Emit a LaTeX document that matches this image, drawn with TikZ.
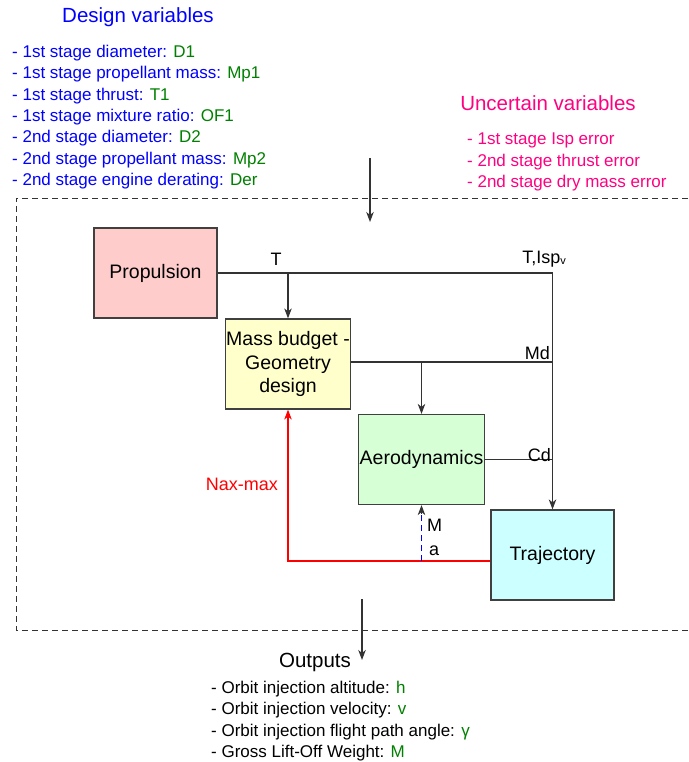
\documentclass[tikz,border=0pt]{standalone}
\usepackage{fontspec}
\setmainfont{Liberation Sans}
\usepackage{tikz}
\usetikzlibrary{arrows.meta}

\definecolor{dvblue}{RGB}{0,0,255}
\definecolor{dvgreen}{RGB}{0,128,0}
\definecolor{uvpink}{RGB}{255,0,128}
\definecolor{propfill}{RGB}{255,204,204}
\definecolor{massfill}{RGB}{255,255,204}
\definecolor{aerofill}{RGB}{214,255,214}
\definecolor{trajfill}{RGB}{204,255,255}

\begin{document}
\begin{tikzpicture}[x=1pt,y=-1pt,
    block/.style={draw=black!75,line width=1.2pt,minimum width=123pt,minimum height=90pt,
      align=center,inner sep=1pt,font=\fontsize{19.5}{23.5}\selectfont},
    wire/.style={black!80,line width=1.1pt},
    flow/.style={wire,-{Stealth[length=10pt,width=7.5pt,inset=3pt]}},
    frame/.style={black!80,line width=1pt,dash pattern=on 6pt off 4pt},
    lbl/.style={inner sep=0pt,font=\fontsize{18}{20}\selectfont},
    item/.style={inner sep=0pt,anchor=base west,font=\fontsize{17}{20}\selectfont},
    head/.style={inner sep=0pt,anchor=base,font=\fontsize{20.5}{24}\selectfont}]
  \useasboundingbox (0,0) rectangle (688,762);

  % design and uncertain variables
  \node[head,text=dvblue] (dvtitle) at (138,23) {Design variables};
  \foreach \name/\sym [count=\i] in {1st stage diameter/D1,1st stage propellant mass/Mp1,
      1st stage thrust/T1,1st stage mixture ratio/OF1,2nd stage diameter/D2,
      2nd stage propellant mass/Mp2,2nd stage engine derating/Der}
    \node[item,text=dvblue] (dv\i) at (12,{57.3+21.4*(\i-1)}) {- \name: \textcolor{dvgreen}{\sym}};
  \node[head,text=uvpink] (uvtitle) at (548,110.7) {Uncertain variables};
  \foreach \name [count=\i] in {1st stage Isp error,2nd stage thrust error,2nd stage dry mass error}
    \node[item,text=uvpink] (uv\i) at (467,{145+21.4*(\i-1)}) {- \name};

  % frame
  \draw[frame] (688,198) -- (16,198) -- (16,630) -- (688,630);
  \coordinate (inTop) at (370,158);
  \coordinate (inTip) at (370,222);
  \draw[flow] (inTop) -- (inTip);

  % disciplines
  \node[block,fill=propfill] (prop) at (155.5,273) {Propulsion};
  \node[block,fill=massfill,minimum width=122pt] (mass) at (288,364) {Mass budget -\\Geometry\\design};
  \node[block,fill=aerofill] (aero) at (421.5,459.5) {Aerodynamics};
  \node[block,fill=trajfill] (traj) at (552.5,555) {Trajectory};

  \draw[flow] (prop.east) -- (prop.east -| traj.north) -- (traj.north);
  \draw[flow] (prop.east -| mass.north) -- (mass.north);
  \draw[wire] ([yshift=2pt]mass.east) -- ([yshift=2pt]mass.east -| traj.north);
  \draw[flow] ([yshift=2pt]mass.east -| aero.north) -- (aero.north);
  \draw[wire] (aero.east) -- (aero.east -| traj.north);
  \draw[red,line width=1.1pt,-{Stealth[length=10pt,width=7.5pt,inset=3pt]}]
    ([yshift=-6pt]traj.west) -- ([yshift=-6pt]traj.west -| mass.south) -- (mass.south);
  \draw[blue,line width=1pt,dash pattern=on 6pt off 4pt]
    ([yshift=-6pt]traj.west -| aero.south) -- ([yshift=-8pt]aero.south);
  \draw[flow] ([yshift=-9pt]aero.south) -- (aero.south);

  \node[lbl,anchor=base] (tlbl) at (276,265) {T};
  \node[lbl,anchor=base east] (tisplbl) at (566,263) {T,Isp\raisebox{-1pt}{\fontsize{11}{12}\selectfont v}};
  \node[lbl,anchor=base east] (mdlbl) at (550,359) {Md};
  \node[lbl,anchor=base east] (cdlbl) at (551,461) {Cd};
  \node[lbl,anchor=base west] (mlbl) at (427,531) {M};
  \node[lbl,anchor=base west] (albl) at (429,555) {a};
  \node[lbl,anchor=base east,text=red] (naxlbl) at (278,490) {Nax-max};

  % outputs
  \coordinate (outTop) at (362,599);
  \coordinate (outTip) at (362,660);
  \draw[flow] (outTop) -- (outTip);
  \node[head] (outtitle) at (315,667) {Outputs};
  \foreach \name/\sym [count=\i] in {Orbit injection altitude/h,Orbit injection velocity/v,
      Orbit injection flight path angle/γ,Gross Lift-Off Weight/M}
    \node[item] (out\i) at (211,{693.3+21.4*(\i-1)}) {- \name: \textcolor{dvgreen}{\sym}};
\end{tikzpicture}
\end{document}
